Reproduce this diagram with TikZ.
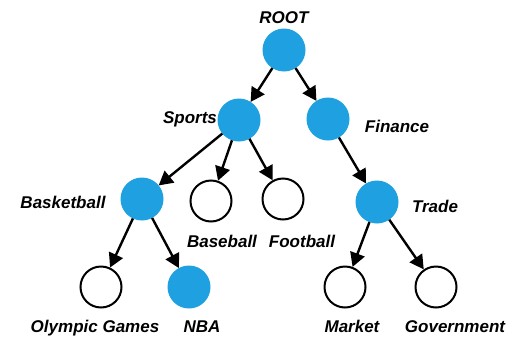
\documentclass[tikz,border=0pt]{standalone}
\usepackage{fontspec}
\setmainfont{Liberation Sans}
\usetikzlibrary{arrows.meta}
\definecolor{nodeblue}{RGB}{30,160,225}
\begin{document}
\begin{tikzpicture}[x=1pt,y=-1pt,
  full/.style={circle,fill=nodeblue,minimum size=43pt,inner sep=0pt,outer sep=0pt},
  empty/.style={circle,draw=black,line width=2pt,fill=white,minimum size=41pt,inner sep=0pt,outer sep=1pt},
  lbl/.style={anchor=base,inner sep=0pt,font=\fontsize{17}{20}\selectfont\bfseries\itshape},
  edge/.style={line width=2.4pt,-{Triangle[length=14pt,width=15pt]}}]
\useasboundingbox (0,0) rectangle (518,340);
\node[full] (root) at (284,50) {};
\node[full] (sports) at (239,120) {};
\node[full] (finance) at (328,119) {};
\node[full] (basket) at (142,199) {};
\node[empty] (baseball) at (211,201) {};
\node[empty] (football) at (283,199) {};
\node[full] (trade) at (377,202) {};
\node[empty] (olympic) at (101,287) {};
\node[full] (nba) at (189,287) {};
\node[empty] (market) at (345,287) {};
\node[empty] (gov) at (436,287) {};
\draw[edge] (root) -- (sports);
\draw[edge] (root) -- (finance);
\draw[edge] (sports) -- (basket);
\draw[edge] (sports) -- (baseball);
\draw[edge] (sports) -- (football);
\draw[edge] (finance) -- (trade);
\draw[edge] (basket) -- (olympic);
\draw[edge] (basket) -- (nba);
\draw[edge] (trade) -- (market);
\draw[edge] (trade) -- (gov);
\node[lbl] (lroot) at (284,23) {ROOT};
\node[lbl] (lsports) at (190,123) {Sports};
\node[lbl] (lfinance) at (397,132) {Finance};
\node[lbl] (lbasket) at (63,208) {Basketball};
\node[lbl] (lbaseball) at (222,247) {Baseball};
\node[lbl] (lfootball) at (302,247) {Football};
\node[lbl] (ltrade) at (435,212) {Trade};
\node[lbl] (lolympic) at (95,332) {Olympic Games};
\node[lbl] (lnba) at (202,332) {NBA};
\node[lbl] (lmarket) at (352,332) {Market};
\node[lbl] (lgov) at (455,332) {Government};
\end{tikzpicture}
\end{document}
